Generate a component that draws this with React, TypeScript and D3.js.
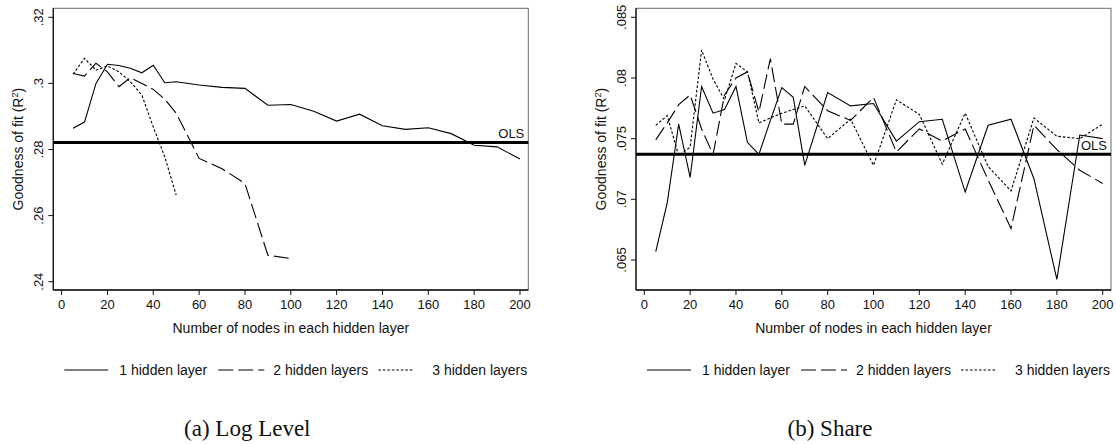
import React from "react";
import * as d3 from "d3";

// ---------- data ----------
const logNodesOne = [5, 10, 15, 20, 25, 30, 35, 40, 45, 50, 60, 70, 80, 90, 100, 110, 120, 130, 140, 150, 160, 170, 180, 190, 200];
const logOneLayer = [0.2864, 0.2883, 0.3, 0.3058, 0.3054, 0.3046, 0.3032, 0.3055, 0.3002, 0.3005, 0.2995, 0.2988, 0.2985, 0.2934, 0.2936, 0.2916, 0.2886, 0.2907, 0.2872, 0.2861, 0.2866, 0.2848, 0.2813, 0.2808, 0.2771];
const logNodesTwo = [5, 10, 15, 20, 25, 30, 35, 40, 45, 50, 60, 70, 80, 90, 100];
const logTwoLayers = [0.303, 0.3022, 0.3061, 0.3035, 0.299, 0.3017, 0.3, 0.2982, 0.2952, 0.291, 0.2773, 0.2742, 0.2697, 0.248, 0.247];
const logNodesThree = [5, 10, 15, 20, 25, 30, 35, 40, 45, 50];
const logThreeLayers = [0.3028, 0.3076, 0.304, 0.3053, 0.3035, 0.3005, 0.2965, 0.2868, 0.2778, 0.2662];
const logOLS = 0.2821;

const shareNodes = [5, 10, 15, 20, 25, 30, 35, 40, 45, 50, 55, 60, 65, 70, 80, 90, 100, 110, 120, 130, 140, 150, 160, 170, 180, 190, 200];
const shareOneLayer = [0.0657, 0.0697, 0.0762, 0.0718, 0.0793, 0.0771, 0.0774, 0.0793, 0.0747, 0.0737, 0.0765, 0.0792, 0.0784, 0.0728, 0.0788, 0.0777, 0.0779, 0.0748, 0.0764, 0.0766, 0.0706, 0.0761, 0.0766, 0.0717, 0.0634, 0.0753, 0.075];
const shareTwoLayers = [0.0749, 0.0763, 0.0778, 0.0786, 0.0758, 0.0737, 0.0786, 0.08, 0.0805, 0.0772, 0.0816, 0.0762, 0.0762, 0.0793, 0.0773, 0.0765, 0.0784, 0.0739, 0.0758, 0.0748, 0.0758, 0.0716, 0.0676, 0.0761, 0.0741, 0.0724, 0.0713];
const shareThreeLayers = [0.0761, 0.0769, 0.0736, 0.0743, 0.0823, 0.0799, 0.0782, 0.0812, 0.0805, 0.0763, 0.0767, 0.0771, 0.0774, 0.0777, 0.075, 0.0766, 0.0728, 0.0782, 0.077, 0.0729, 0.0771, 0.0727, 0.0707, 0.0767, 0.0752, 0.075, 0.0762];
const shareOLS = 0.07371;

const xTicks = [0, 20, 40, 60, 80, 100, 120, 140, 160, 180, 200];
const logYTicks = [0.24, 0.26, 0.28, 0.3, 0.32];
const logYLabels = [".24", ".26", ".28", ".3", ".32"];
const shareYTicks = [0.065, 0.07, 0.075, 0.08, 0.085];
const shareYLabels = [".065", ".07", ".075", ".08", ".085"];
const legendLabels = ["1 hidden layer", "2 hidden layers", "3 hidden layers"];
const captions = ["(a) Log Level", "(b) Share"];
const xTitle = "Number of nodes in each hidden layer";

// ---------- layout ----------
const W = 1116;
const H = 444;
const PLOT_W = 475;
const TOP = 8.3;
const BOTTOM = 290;
const INSET = 8.3;
const SANS = "'Liberation Sans', Arial, Helvetica, sans-serif";
const SERIF = "'Liberation Serif', 'Times New Roman', serif";
const DASHES = ["", "15,5", "2.6,1.9"];

type Series = { nodes: number[]; values: number[] };

function Panel(props: {
  left: number;
  yDomain: [number, number];
  yRange: [number, number];
  yTicks: number[];
  yLabels: string[];
  series: Series[];
  ols: number;
  caption: string;
}) {
  const { left, yDomain, yRange, yTicks, yLabels, series, ols, caption } = props;
  const right = left + PLOT_W;
  const x = d3.scaleLinear().domain([0, 200]).range([left + INSET, right - INSET]);
  const y = d3.scaleLinear().domain(yDomain).range(yRange);
  const line = d3
    .line<[number, number]>()
    .x((d) => x(d[0]))
    .y((d) => y(d[1]));
  const olsY = y(ols);
  const clipId = `clip-${Math.round(left)}`;
  const legX = left + 11;
  const legendItems = [
    { k0: 0, k1: 44, t: 55 },
    { k0: 154, k1: 200, t: 209 },
    { k0: 314, k1: 349, t: 368 },
  ];
  const legY = 370;
  return (
    <g>
      <defs>
        <clipPath id={clipId}>
          <rect x={left} y={TOP} width={PLOT_W} height={BOTTOM - TOP} />
        </clipPath>
      </defs>
      <rect x={left} y={TOP} width={PLOT_W} height={BOTTOM - TOP} fill="white" stroke="#6a6a6a" strokeWidth={1} />
      <line x1={left} x2={left} y1={TOP} y2={BOTTOM} stroke="#111" strokeWidth={1.3} />
      <line x1={left} x2={right} y1={BOTTOM} y2={BOTTOM} stroke="#111" strokeWidth={1.3} />
      {/* y ticks */}
      {yTicks.map((t, i) => (
        <g key={"y" + i}>
          <line x1={left - 5} x2={left} y1={y(t)} y2={y(t)} stroke="#111" strokeWidth={1} />
          <text
            transform={`translate(${left - 10.5},${y(t)}) rotate(-90)`}
            textAnchor="middle"
            fontSize={13}
            fontFamily={SANS}
            fill="#111"
          >
            {yLabels[i]}
          </text>
        </g>
      ))}
      {/* x ticks */}
      {xTicks.map((t, i) => (
        <g key={"x" + i}>
          <line x1={x(t)} x2={x(t)} y1={BOTTOM} y2={BOTTOM + 5} stroke="#111" strokeWidth={1} />
          <text x={x(t)} y={309} textAnchor="middle" fontSize={13} fontFamily={SANS} fill="#111">
            {String(t)}
          </text>
        </g>
      ))}
      <text x={(left + right) / 2} y={333} textAnchor="middle" fontSize={14} fontFamily={SANS} fill="#111">
        {xTitle}
      </text>
      <text
        transform={`translate(${left - 30.5},${(TOP + BOTTOM) / 2}) rotate(-90)`}
        textAnchor="middle"
        fontSize={14}
        fontFamily={SANS}
        fill="#111"
      >
        <tspan>Goodness of fit (R</tspan>
        <tspan dy={-5} fontSize={9}>2</tspan>
        <tspan dy={5}>)</tspan>
      </text>
      {/* OLS */}
      <line x1={left} x2={right} y1={olsY} y2={olsY} stroke="#000" strokeWidth={3} />
      <text x={right - 4} y={olsY - 4.5} textAnchor="end" fontSize={13} fontFamily={SANS} fill="#111">
        OLS
      </text>
      {/* series */}
      <g clipPath={`url(#${clipId})`}>
        {series.map((s, i) => (
          <path
            key={"s" + i}
            d={line(s.nodes.map((n, j) => [n, s.values[j]] as [number, number])) || ""}
            fill="none"
            stroke="#000"
            strokeWidth={1.1}
            strokeDasharray={DASHES[i] || undefined}
            strokeLinejoin="miter"
          />
        ))}
      </g>
      {/* legend */}
      {legendItems.map((it, i) => (
        <g key={"l" + i}>
          <line
            x1={legX + it.k0}
            x2={legX + it.k1}
            y1={legY}
            y2={legY}
            stroke="#000"
            strokeWidth={1.1}
            strokeDasharray={DASHES[i] || undefined}
          />
          <text x={legX + it.t} y={legY + 5} fontSize={14} fontFamily={SANS} fill="#111">
            {legendLabels[i]}
          </text>
        </g>
      ))}
      <text x={left + 194} y={436} textAnchor="middle" fontSize={23} fontFamily={SERIF} fill="#111">
        {caption}
      </text>
    </g>
  );
}

export default function App() {
  return (
    <svg
      width={W}
      height={H}
      viewBox={`0 0 ${W} ${H}`}
      style={{ position: "absolute", left: 0, top: 0, background: "white" }}
    >
      <rect x={0} y={0} width={W} height={H} fill="white" />
      <Panel
        left={53.3}
        yDomain={[0.24, 0.32]}
        yRange={[281.7, 17.3]}
        yTicks={logYTicks}
        yLabels={logYLabels}
        series={[
          { nodes: logNodesOne, values: logOneLayer },
          { nodes: logNodesTwo, values: logTwoLayers },
          { nodes: logNodesThree, values: logThreeLayers },
        ]}
        ols={logOLS}
        caption={captions[0]}
      />
      <Panel
        left={636}
        yDomain={[0.065, 0.085]}
        yRange={[260, 17.3]}
        yTicks={shareYTicks}
        yLabels={shareYLabels}
        series={[
          { nodes: shareNodes, values: shareOneLayer },
          { nodes: shareNodes, values: shareTwoLayers },
          { nodes: shareNodes, values: shareThreeLayers },
        ]}
        ols={shareOLS}
        caption={captions[1]}
      />
    </svg>
  );
}
